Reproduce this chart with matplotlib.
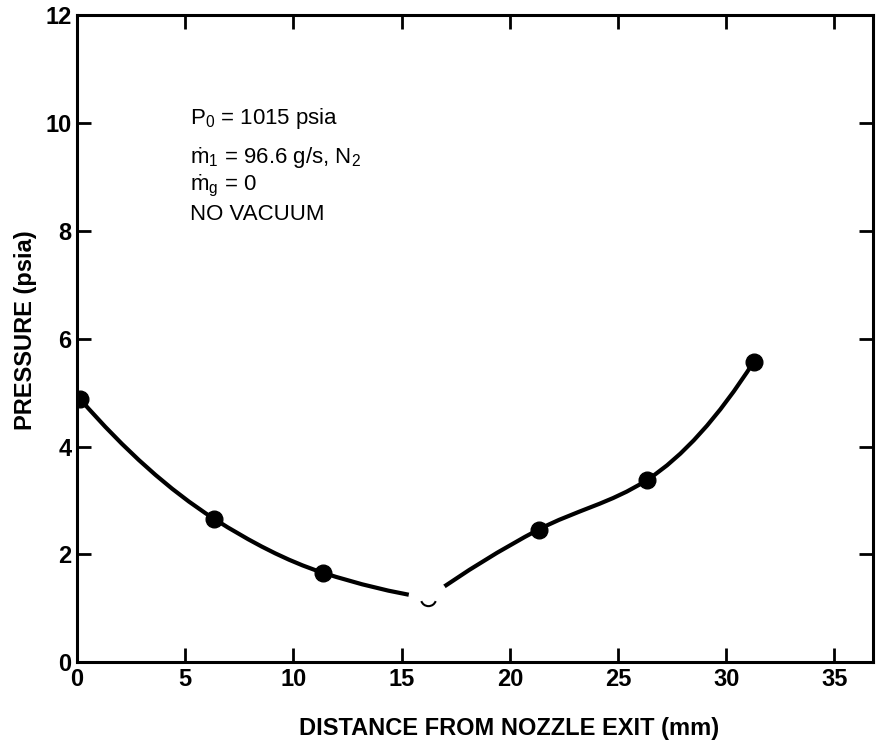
import numpy as np
import matplotlib
matplotlib.use("Agg")
import matplotlib.pyplot as plt
from matplotlib.path import Path
from matplotlib.patches import PathPatch

# data
dist_left = [0.14, 6.33, 11.36, 16.2]
pres_left = [4.88, 2.66, 1.66, 1.19]
dist_right = [16.2, 21.33, 26.34, 31.27]
pres_right = [1.19, 2.46, 3.38, 5.57]
dist_filled = [0.14, 6.33, 11.36, 21.33, 26.34, 31.27]
pres_filled = [4.88, 2.66, 1.66, 2.46, 3.38, 5.57]
dist_open = [16.2]
pres_open = [1.19]
xticks = [0, 5, 10, 15, 20, 25, 30, 35]
yticks = [0, 2, 4, 6, 8, 10, 12]
notes = [r"P$_0$ = 1015 psia", "ṁ$_1$ = 96.6 g/s, N$_2$", "ṁ$_g$ = 0", "NO VACUUM"]
note_x = 5.2
note_y = [10.08, 9.36, 8.83, 8.31]

plt.rcParams['font.family'] = ['Liberation Sans', 'DejaVu Sans']
plt.rcParams['mathtext.default'] = 'regular'


## smooth curve through the points (cubic bezier segments, pchip-like slopes)
def smooth_path(xs, ys):
    x = np.asarray(xs, float)
    y = np.asarray(ys, float)
    sec = np.diff(y) / np.diff(x)
    m = np.zeros_like(x)
    for i in range(1, len(x) - 1):
        a, b = sec[i - 1], sec[i]
        m[i] = 2 * a * b / (a + b) if a * b > 0 else 0.0
    m[0] = 2 * sec[0] - m[1]
    m[-1] = 2 * sec[-1] - m[-2]
    verts = [(x[0], y[0])]
    codes = [Path.MOVETO]
    for i in range(len(x) - 1):
        h = (x[i + 1] - x[i]) / 3
        verts += [(x[i] + h, y[i] + h * m[i]),
                  (x[i + 1] - h, y[i + 1] - h * m[i + 1]),
                  (x[i + 1], y[i + 1])]
        codes += [Path.CURVE4] * 3
    return Path(verts, codes)


fig = plt.figure(figsize=(8.76, 7.5), dpi=100)
ax = fig.add_axes([0.088, 0.117, 0.909, 0.863])

for xs, ys in [(dist_left, pres_left), (dist_right, pres_right)]:
    ax.add_patch(PathPatch(smooth_path(xs, ys), facecolor='none', edgecolor='black',
                           lw=3.0, capstyle='round', zorder=2))

ax.plot(dist_filled, pres_filled, 'o', color='black', markersize=12, zorder=3)
# open point: white gap with a faint outline
ax.plot(dist_open, pres_open, 'o', color='white', markersize=28, zorder=4)
ax.plot(dist_open, pres_open, marker=Path.arc(200, 340), color='black', markersize=11,
        markeredgewidth=1.5, fillstyle='none', linestyle='none', zorder=5)

ax.set_xlim(0, 36.8)
ax.set_ylim(0, 12)
ax.set_xticks(xticks)
ax.set_yticks(yticks)
ax.tick_params(direction='in', length=10, width=2, top=True, right=True,
               labelsize=17, pad=4)
for lab in ax.get_xticklabels() + ax.get_yticklabels():
    lab.set_fontweight('bold')
for sp in ax.spines.values():
    sp.set_linewidth(2.2)

ax.set_xlabel('DISTANCE FROM NOZZLE EXIT (mm)', fontsize=17, fontweight='bold', va='center')
ax.xaxis.set_label_coords(0.543, -0.102)
ax.set_ylabel('PRESSURE (psia)', fontsize=17, fontweight='bold', va='center')
ax.yaxis.set_label_coords(-0.065, 0.513)

for txt, yy in zip(notes, note_y):
    ax.text(note_x, yy, txt, fontsize=16, va='center', ha='left')

plt.savefig('out.png', dpi=100)
